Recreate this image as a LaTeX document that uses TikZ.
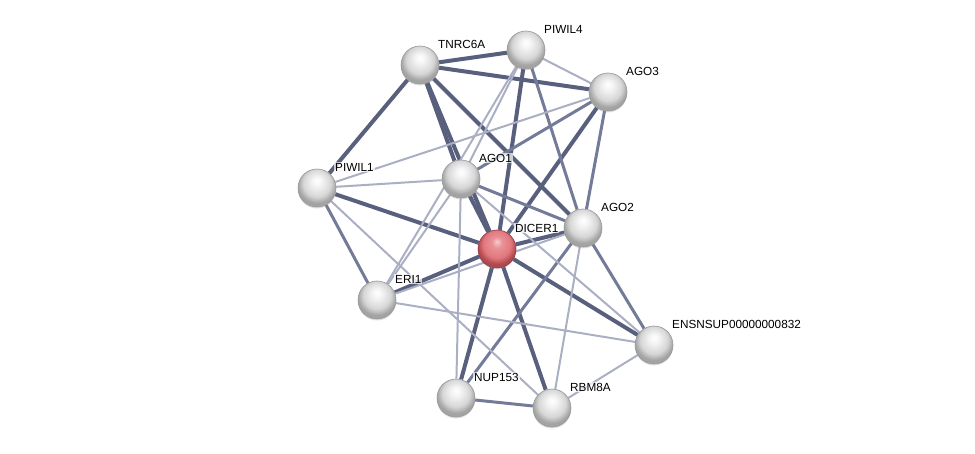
\documentclass[tikz,border=0pt]{standalone}
\usepackage{fontspec}
\setmainfont{Liberation Sans}
\usepackage{xcolor}
\usetikzlibrary{backgrounds,shadows}

\definecolor{edgeA}{RGB}{88,96,126}
\definecolor{edgeB}{RGB}{116,123,152}
\definecolor{edgeC}{RGB}{170,175,195}
\definecolor{redhi}{RGB}{246,205,207}
\definecolor{redmid}{RGB}{226,120,126}
\definecolor{redrim}{RGB}{176,72,80}

\pgfdeclareradialshading{greyball}{\pgfpoint{0bp}{10bp}}{%
  color(0bp)=(white); color(6bp)=(white!96!black); color(18bp)=(white!84!black);
  color(25bp)=(white!64!black); color(50bp)=(white!64!black)}
\pgfdeclareradialshading{redball}{\pgfpoint{0bp}{10bp}}{%
  color(0bp)=(redhi); color(7bp)=(redmid!70!redhi); color(18bp)=(redmid);
  color(25bp)=(redrim); color(50bp)=(redrim)}

\begin{document}
\begin{tikzpicture}[x=1pt,y=-1pt,
  every node/.style={font=\fontsize{11.75}{13}\selectfont},
  prot/.style={circle,draw=black!40,line width=0.6pt,shading=greyball,minimum size=38pt,inner sep=0pt,
    drop shadow={shadow xshift=0pt,shadow yshift=-1.5pt,opacity=0.25}},
  seed/.style={prot,shading=redball,draw=redrim!80!black},
  lbl/.style={anchor=west,inner sep=1pt,fill=white,fill opacity=0.7,text opacity=1},
  strong/.style={draw=edgeA,line width=4pt},
  medium/.style={draw=edgeB,line width=3pt},
  weak/.style={draw=edgeC,line width=2pt}
]
\useasboundingbox (0,0) rectangle (975,454);

\node[prot] (tnrc) at (420,65) {};
\node[prot] (piwil4) at (526,50) {};
\node[prot] (ago3) at (608,92) {};
\node[prot] (piwil1) at (317,188) {};
\node[prot] (ago1) at (461,179) {};
\node[prot] (ago2) at (583,228) {};
\node[seed] (dicer) at (497,249) {};
\node[prot] (eri) at (377,300) {};
\node[prot] (ensn) at (654,345) {};
\node[prot] (nup) at (456,398) {};
\node[prot] (rbm) at (552,408) {};

% labels sit up and right of each ball
\foreach \n/\t in {tnrc/TNRC6A,piwil4/PIWIL4,ago3/AGO3,piwil1/PIWIL1,ago1/AGO1,ago2/AGO2,
  dicer/DICER1,eri/ERI1,ensn/ENSNSUP00000000832,nup/NUP153,rbm/RBM8A}
  \node[lbl] (\n-l) at ([shift={(17,-21)}]\n.center) {\t};

\begin{pgfonlayer}{background}
\foreach \a/\b/\s in {tnrc/piwil4/strong,tnrc/ago3/strong,tnrc/piwil1/strong,tnrc/ago1/strong,
  tnrc/dicer/strong,tnrc/ago2/strong,piwil4/dicer/strong,ago3/dicer/strong,piwil1/dicer/strong,
  ago1/dicer/strong,ago2/dicer/strong,eri/dicer/strong,dicer/nup/strong,dicer/rbm/strong,
  dicer/ensn/strong,
  piwil4/ago2/medium,ago3/ago1/medium,ago3/ago2/medium,ago1/ago2/medium,ago2/nup/medium,
  nup/rbm/medium,piwil1/eri/medium,ago2/ensn/medium,
  ago1/nup/weak,piwil4/ago3/weak,piwil4/ago1/weak,piwil4/eri/weak,ago3/piwil1/weak,piwil1/ago1/weak,
  piwil1/rbm/weak,ago1/eri/weak,ago1/ensn/weak,eri/ago2/weak,eri/ensn/weak,ago2/rbm/weak,
  rbm/ensn/weak}
  \draw[\s] (\a) -- (\b);
\end{pgfonlayer}
\end{tikzpicture}
\end{document}
